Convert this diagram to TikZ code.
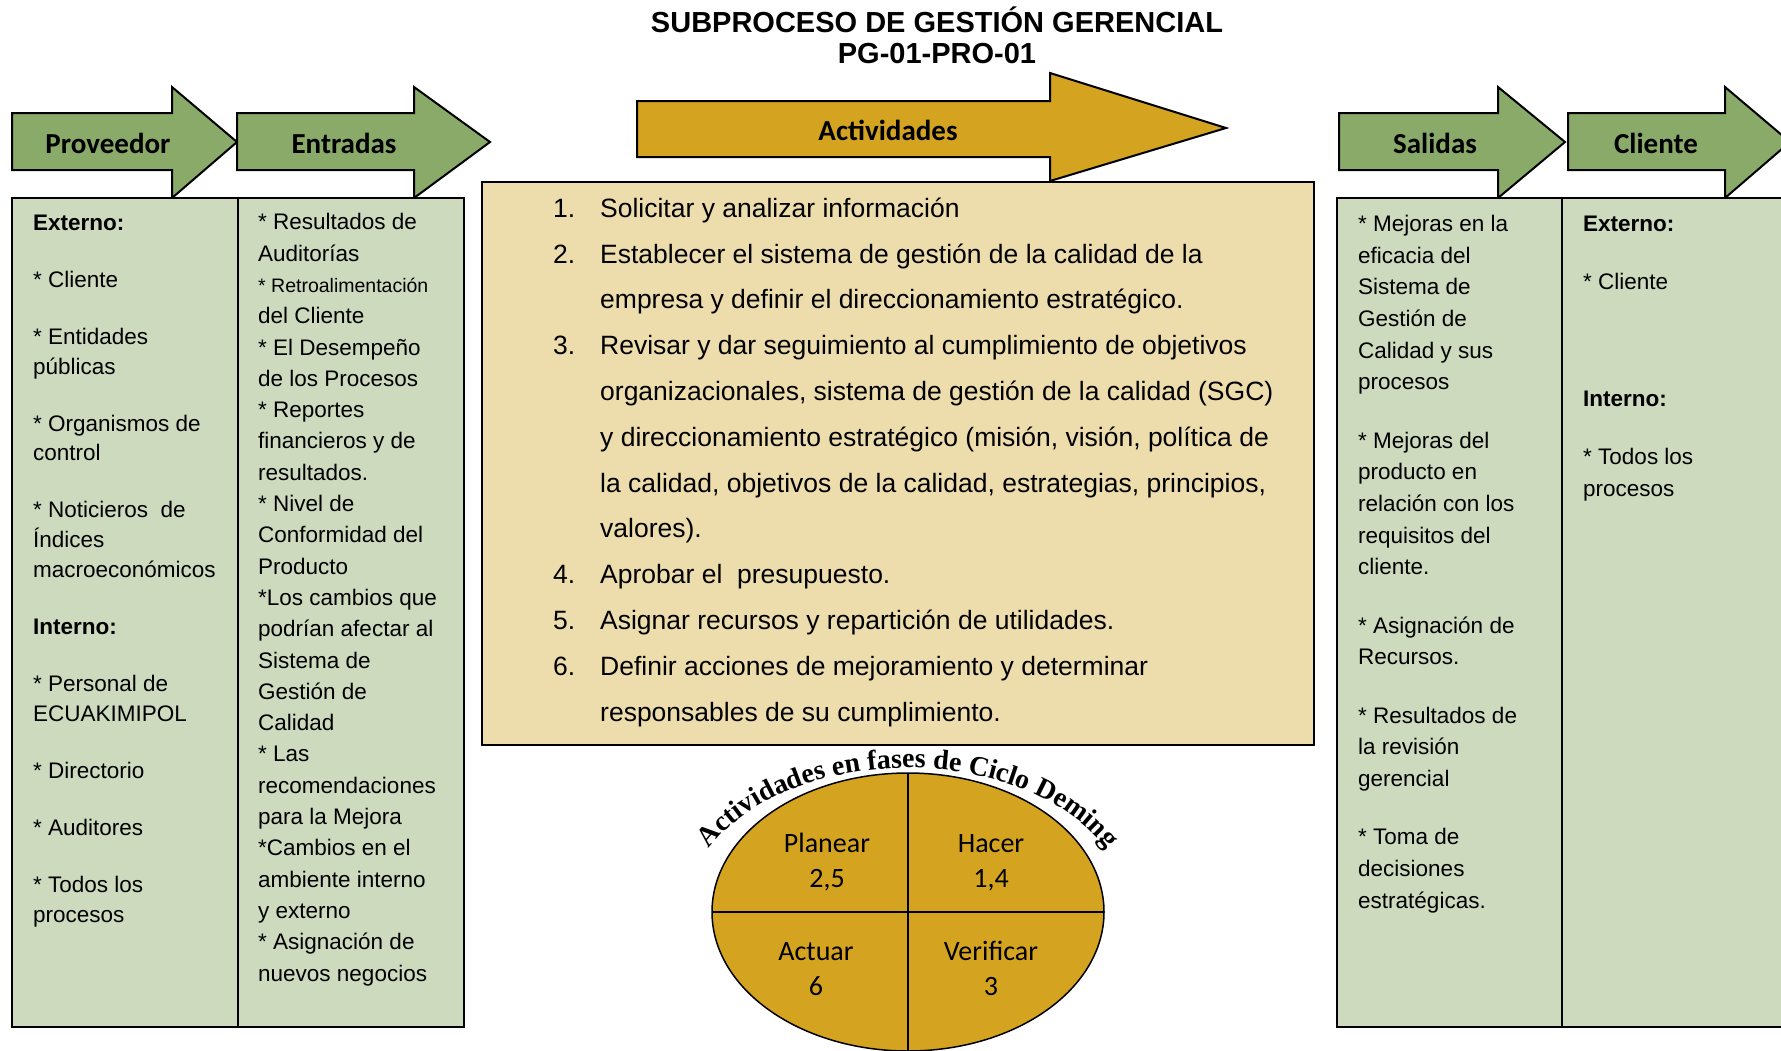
\documentclass[tikz,border=0pt]{standalone}
\usepackage{fontspec}
\setmainfont{Liberation Sans}
\newfontfamily\calibri{Carlito}
\newfontfamily\archfont{Liberation Serif}
\usetikzlibrary{decorations.text}

\definecolor{arrowgreen}{RGB}{137,170,104}
\definecolor{boxgreen}{RGB}{205,218,190}
\definecolor{sand}{RGB}{237,221,172}
\definecolor{gold}{RGB}{212,163,32}

\tikzset{
  greenarrow/.style={draw=black, line width=2pt, fill=arrowgreen},
  goldarrow/.style={draw=black, line width=2pt, fill=gold},
  greenbox/.style={draw=black, line width=2pt, fill=boxgreen},
  actbox/.style={draw=black, line width=2pt, fill=sand},
  arrowlabel/.style={anchor=base, inner sep=0pt, font=\calibri\bfseries\fontsize{29}{29}\selectfont},
  coltext/.style={anchor=base west, align=left, inner sep=0pt, font=\fontsize{22.5}{#1}\selectfont},
  listtext/.style={anchor=base west, align=left, inner sep=0pt, font=\fontsize{26.5}{45.8}\selectfont},
  phase/.style={anchor=base, align=center, inner sep=0pt, font=\calibri\fontsize{28}{35}\selectfont}
}

\begin{document}
\begin{tikzpicture}[x=1pt,y=-1pt]
  \useasboundingbox (0,0) rectangle (1781,1050);
  \clip (0,0) rectangle (1781,1050);

  % title (base = last line)
  \node[anchor=base, align=center, inner sep=0pt, font=\bfseries\fontsize{29}{31}\selectfont] (title) at (937,63)
    {SUBPROCESO DE GESTIÓN GERENCIAL\\PG-01-PRO-01};

  % green arrows
  \foreach \nm/\xl/\xb/\xt/\xc/\lab in {proveedor/12/172/237/108/Proveedor,
      entradas/237/414/490/344/Entradas,
      salidas/1339/1498/1565/1435/Salidas,
      cliente/1568/1725/1790/1656/Cliente}
  {
    \draw[greenarrow] (\xl,113) -- (\xb,113) -- (\xb,87) -- (\xt,142) -- (\xb,198) -- (\xb,170) -- (\xl,170) -- cycle;
    \node[arrowlabel] (\nm) at (\xc,153) {\lab};
  }

  % actividades arrow
  \draw[goldarrow] (637,101) -- (1050,101) -- (1050,73) -- (1226,128) -- (1050,181) -- (1050,157) -- (637,157) -- cycle;
  \node[arrowlabel] (actividades) at (888,140) {Actividades};

  % columns
  \draw[greenbox] (12,198) rectangle (238,1027);
  \draw[greenbox] (238,198) rectangle (464,1027);
  \draw[greenbox] (1337,198) rectangle (1562,1027);
  \draw[greenbox] (1562,198) rectangle (1800,1027);
  \draw[actbox] (482,182) rectangle (1314,745);

  \node[coltext=29.8] (prov) at (33,922) {%
    \textbf{Externo:}\\[27.2pt]
    * Cliente\\[27.2pt]
    * Entidades\\públicas\\[27.2pt]
    * Organismos de\\control\\[27.2pt]
    * Noticieros\ \ de\\Índices\\macroeconómicos\\[27.2pt]
    \textbf{Interno:}\\[27.2pt]
    * Personal de\\ECUAKIMIPOL\\[27.2pt]
    * Directorio\\[27.2pt]
    * Auditores\\[27.2pt]
    * Todos los\\procesos};

  \node[coltext=31.3] (entr) at (258,981) {%
    * Resultados de\\Auditorías\\
    {\fontsize{19.5}{31.3}\selectfont * Retroalimentación}\\del Cliente\\
    * El Desempeño\\de los Procesos\\
    * Reportes\\financieros y de\\resultados.\\
    * Nivel de\\Conformidad del\\Producto\\
    *Los cambios que\\podrían afectar al\\Sistema de\\Gestión de\\Calidad\\
    * Las\\recomendaciones\\para la Mejora\\
    *Cambios en el\\ambiente interno\\y externo\\
    * Asignación de\\nuevos negocios};

  \node[coltext=31.7] (sal) at (1358,908) {%
    * Mejoras en la\\eficacia del\\Sistema de\\Gestión de\\Calidad y sus\\procesos\\[26.5pt]
    * Mejoras del\\producto en\\relación con los\\requisitos del\\cliente.\\[26.5pt]
    * Asignación de\\Recursos.\\[26.5pt]
    * Resultados de\\la revisión\\gerencial\\[26.5pt]
    * Toma de\\decisiones\\estratégicas.};

  \node[coltext=31.7] (cli) at (1583,496) {%
    \textbf{Externo:}\\[26.5pt]
    * Cliente\\[85pt]
    \textbf{Interno:}\\[26.5pt]
    * Todos los\\procesos};

  % actividades list
  \node[listtext] (acts) at (553,721) {%
    \makebox[47pt][l]{1.}Solicitar y analizar información\\
    \makebox[47pt][l]{2.}Establecer el sistema de gestión de la calidad de la\\
    \hspace*{47pt}empresa y definir el direccionamiento estratégico.\\
    \makebox[47pt][l]{3.}Revisar y dar seguimiento al cumplimiento de objetivos\\
    \hspace*{47pt}organizacionales, sistema de gestión de la calidad (SGC)\\
    \hspace*{47pt}y direccionamiento estratégico (misión, visión, política de\\
    \hspace*{47pt}la calidad, objetivos de la calidad, estrategias, principios,\\
    \hspace*{47pt}valores).\\
    \makebox[47pt][l]{4.}Aprobar el\ \ presupuesto.\\
    \makebox[47pt][l]{5.}Asignar recursos y repartición de utilidades.\\
    \makebox[47pt][l]{6.}Definir acciones de mejoramiento y determinar\\
    \hspace*{47pt}responsables de su cumplimiento.};

  % Deming cycle
  \draw[line width=1.5pt, fill=gold] (908,912) ellipse [x radius=196, y radius=139];
  \draw[line width=1.5pt] (908,773) -- (908,1052);
  \draw[line width=1.5pt] (712,912) -- (1104,912);
  \node[phase] (planear) at (827,887) {Planear\\2,5};
  \node[phase] (hacer) at (991,887) {Hacer\\1,4};
  \node[phase] (actuar) at (816,995) {Actuar\\6};
  \node[phase] (verificar) at (991,995) {Verificar\\3};
  \path[decorate, decoration={text along path, text align=center,
      text={|\archfont\bfseries\fontsize{28}{28}\selectfont|Actividades en fases de Ciclo Deming}}]
    (712.3,845) arc[start angle=-152.3, end angle=-27.7, x radius=221, y radius=144];
\end{tikzpicture}
\end{document}
